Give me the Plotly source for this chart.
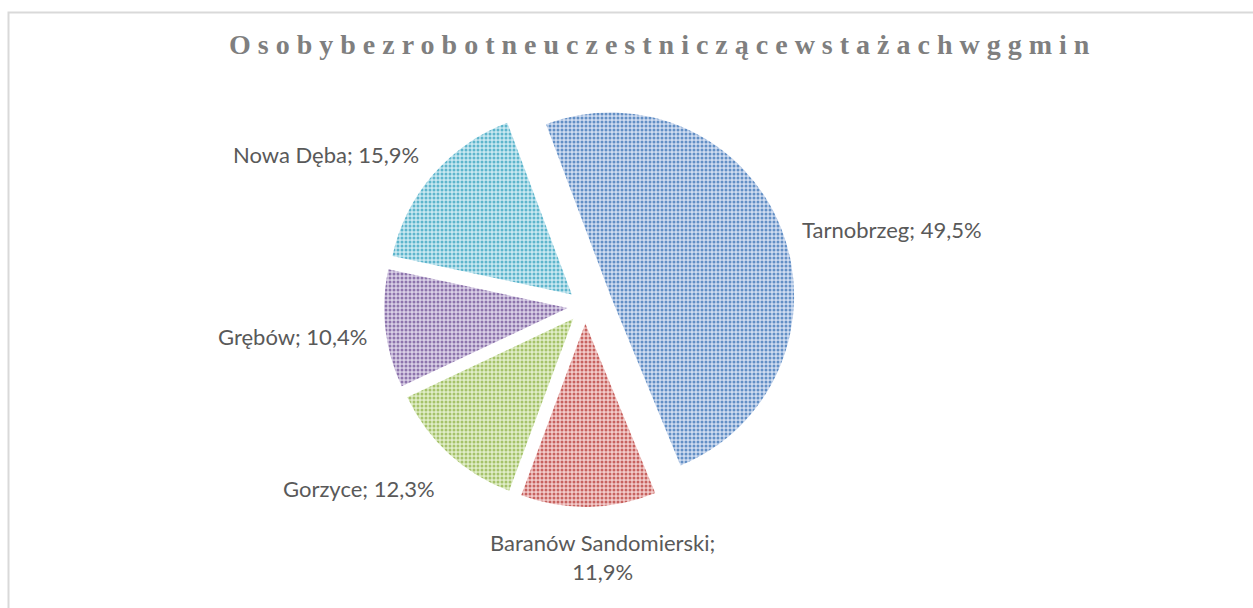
import plotly.graph_objects as go

# ---- data ----
categories = ["Tarnobrzeg", "Baranów Sandomierski", "Gorzyce", "Grębów", "Nowa Dęba"]
values = [49.5, 11.9, 12.3, 10.4, 15.9]
label_names = ["Tarnobrzeg", "Baranów Sandomierski;<br>", "Gorzyce", "Grębów", "Nowa Dęba"]
title_text = "O s o b y b e z r o b o t n e u c z e s t n i c z ą c e w s t a ż a c h w g g m i n"

# ---- styling ----
W, H = 1253, 608
fg_colors = ["#4F81BD", "#C0504D", "#9BBB59", "#8064A2", "#4BACC6"]
bg_colors = ["#CFDCF0", "#F2CBCA", "#E0EDC8", "#D9CFE6", "#C9E8F1"]
pulls = [0.15, 0.095, 0.095, 0.095, 0.095]


def px(x):
    return x / W


def py(y):
    return 1 - y / H


cx, cy, R = 585, 306, 211

fig = go.Figure(
    go.Pie(
        labels=categories,
        values=values,
        sort=False,
        direction="clockwise",
        rotation=-20.6,
        pull=pulls,
        textinfo="none",
        hoverinfo="label+percent",
        showlegend=False,
        marker=dict(
            colors=bg_colors,
            line=dict(width=0),
            pattern=dict(
                shape=".",
                fgcolor=fg_colors,
                bgcolor=bg_colors,
                size=4,
                solidity=0.45,
                fgopacity=0.85,
            ),
        ),
        domain=dict(x=[px(cx - R), px(cx + R)], y=[py(cy + R), py(cy - R)]),
    )
)

label_pos = [
    (800, 229, "left"),
    (602, 557, "center"),
    (281, 488, "left"),
    (216, 336, "left"),
    (231, 155, "left"),
]

annotations = []
for name, v, (x, y, xa) in zip(label_names, values, label_pos):
    sep = "" if name.endswith("<br>") else "; "
    txt = f"{name}{sep}{v:.1f}%".replace(".", ",")
    annotations.append(
        dict(
            x=px(x), y=py(y), xref="paper", yref="paper",
            xanchor=xa, yanchor="middle", showarrow=False, align="center",
            text=txt,
            font=dict(family="Lato, Carlito, Arial", size=22, color="#595959"),
        )
    )

annotations.append(
    dict(
        x=px(659), y=py(44), xref="paper", yref="paper",
        xanchor="center", yanchor="middle", showarrow=False,
        text=f"<b>{title_text}</b>",
        font=dict(family="Liberation Serif, Times New Roman, serif", size=28, color="#7F7F7F"),
    )
)

fig.update_layout(
    width=W,
    height=H,
    margin=dict(l=0, r=0, t=0, b=0),
    paper_bgcolor="white",
    plot_bgcolor="white",
    annotations=annotations,
    shapes=[
        dict(
            type="rect", xref="paper", yref="paper",
            x0=px(8.5), x1=1.2, y0=-0.2, y1=py(12.5),
            line=dict(color="#D9D9D9", width=2),
            fillcolor="rgba(0,0,0,0)",
        )
    ],
)

fig.write_html(
    "out.html",
    config={"displayModeBar": False},
    post_script="document.body.style.margin='0';",
)
